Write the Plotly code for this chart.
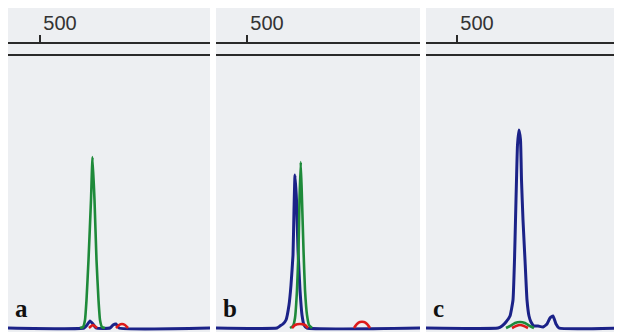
import plotly.graph_objects as go
from plotly.subplots import make_subplots

# ---- data (size in bp, signal in RFU); None separates detached bumps ----
panel_labels = ["a", "b", "c"]
x_ranges = [[487.2, 568.0], [487.6, 569.2], [487.6, 566.0]]
tick_values = [500]
tick_labels = ["500"]

# panel a
a_blue_x = [487.2, 517.6, 518.8, 520.0, 521.2, 522.4, 528.0, 529.2, 530.4, 531.6, 568.0]
a_blue_y = [0, 0, 15, 35, 20, 0, 0, 15, 20, 0, 0]
a_green_x = [516.0, 517.2, 518.0, 518.6, 519.4, 520.4, 521.0, 521.8, 522.6, 523.4, 524.0, 524.8, 526.0]
a_green_y = [0, 5, 40, 140, 340, 640, 855, 640, 340, 140, 40, 5, 0]
a_red_x = [519.6, 521.2, 522.8, None, 530.4, 531.6, 532.8, 534.0, 535.2]
a_red_y = [0, 15, 0, None, 0, 15, 20, 15, 0]

# panel b
b_blue_x = [487.6, 512.0, 513.2, 514.4, 515.6, 516.8, 517.6, 518.4, 518.8, 519.2,
            519.8, 520.4, 521.2, 522.0, 522.8, 524.0, 569.2]
b_blue_y = [0, 0, 10, 20, 40, 115, 215, 365, 590, 765, 640, 390, 190, 65, 15, 0, 0]
b_green_x = [517.2, 518.4, 519.2, 520.0, 520.6, 521.0, 521.5, 522.0, 522.6, 523.2, 524.0, 524.8, 526.0]
b_green_y = [0, 10, 50, 190, 390, 640, 830, 640, 390, 190, 65, 15, 0]
b_red_x = [518.0, 519.2, 521.2, 523.2, 524.4, None, 542.8, 544.0, 545.2, 546.8, 548.0, 549.2]
b_red_y = [0, 15, 20, 15, 0, None, 0, 20, 30, 30, 20, 0]

# panel c
c_blue_x = [487.6, 516.4, 518.0, 519.6, 521.2, 522.4, 523.0, 523.4, 523.8, 524.2, 524.8,
            525.4, 525.8, 526.4, 527.2, 528.0, 528.8, 529.6, 530.8, 532.4, 534.4,
            536.0, 537.2, 538.4, 539.6, 540.8, 566.0]
c_blue_y = [0, 0, 10, 30, 60, 140, 340, 540, 740, 915, 990, 940, 740, 540, 340, 140, 60,
            30, 10, 10, 5, 20, 50, 60, 20, 0, 0]
c_green_x = [519.6, 521.2, 523.2, 525.2, 527.2, 529.2, 530.8]
c_green_y = [0, 10, 25, 30, 25, 10, 0]
c_red_x = [522.0, 523.6, 525.2, 526.8, 528.4]
c_red_y = [0, 10, 15, 10, 0]

panels = [
    (a_blue_x, a_blue_y, a_green_x, a_green_y, a_red_x, a_red_y),
    (b_blue_x, b_blue_y, b_green_x, b_green_y, b_red_x, b_red_y),
    (c_blue_x, c_blue_y, c_green_x, c_green_y, c_red_x, c_red_y),
]

# ---- style ----
# the page body keeps its default 8px margin, so the figure sits at (8, 8)
W, H = 614, 324
BG = "#edeff2"
BLUE = "#1b2288"
GREEN = "#1e8a3a"
RED = "#dd1a1a"
RULE = "#2a2a2a"
x_domains = [[0 / W, 202 / W], [208 / W, 412 / W], [418 / W, 1.0]]
top_px = 36
y_top = 1 - top_px / H

fig = make_subplots(rows=1, cols=3, horizontal_spacing=0.0)

for i, (bx, by, gx, gy, rx, ry) in enumerate(panels):
    col = i + 1
    for xs, ys, color, w in [(bx, by, BLUE, 3.0), (gx, gy, GREEN, 2.6), (rx, ry, RED, 2.6)]:
        fig.add_trace(go.Scatter(x=xs, y=ys, mode="lines", connectgaps=False,
                                 line=dict(color=color, width=w, shape="spline", smoothing=0.4),
                                 showlegend=False, hoverinfo="skip"), row=1, col=col)
    xa = "xaxis" if i == 0 else f"xaxis{col}"
    ya = "yaxis" if i == 0 else f"yaxis{col}"
    fig.layout[xa].update(domain=x_domains[i], range=x_ranges[i], side="top",
                          showline=True, linecolor=RULE, linewidth=2,
                          ticks="outside", ticklen=7, tickwidth=2, tickcolor=RULE,
                          tickvals=tick_values, ticktext=tick_labels,
                          ticklabelshift=20, ticklabelstandoff=-3,
                          tickfont=dict(family="Liberation Sans, Arial", size=20, color="#333333"),
                          showgrid=False, zeroline=False)
    fig.layout[ya].update(domain=[0, y_top], range=[-20, 1420], visible=False)
    xref_dom = ("x" if i == 0 else f"x{col}") + " domain"
    fig.add_shape(type="rect", xref=xref_dom, yref="paper", x0=0, x1=1, y0=y_top, y1=1,
                  fillcolor=BG, line=dict(width=0), layer="below")
    fig.add_shape(type="line", xref=xref_dom, yref="paper", x0=0, x1=1,
                  y0=1 - 47 / H, y1=1 - 47 / H, line=dict(color=RULE, width=2))
    fig.add_annotation(text=f"<b>{panel_labels[i]}</b>", xref=xref_dom, yref="paper",
                       x=0, y=1 - 300 / H, xanchor="left", yanchor="middle", xshift=5,
                       showarrow=False,
                       font=dict(family="Liberation Serif, Times New Roman", size=25, color="#111111"))

fig.update_layout(width=W, height=H, margin=dict(l=0, r=0, t=0, b=0),
                  paper_bgcolor="white", plot_bgcolor=BG, showlegend=False)

fig.write_html("out.html")
